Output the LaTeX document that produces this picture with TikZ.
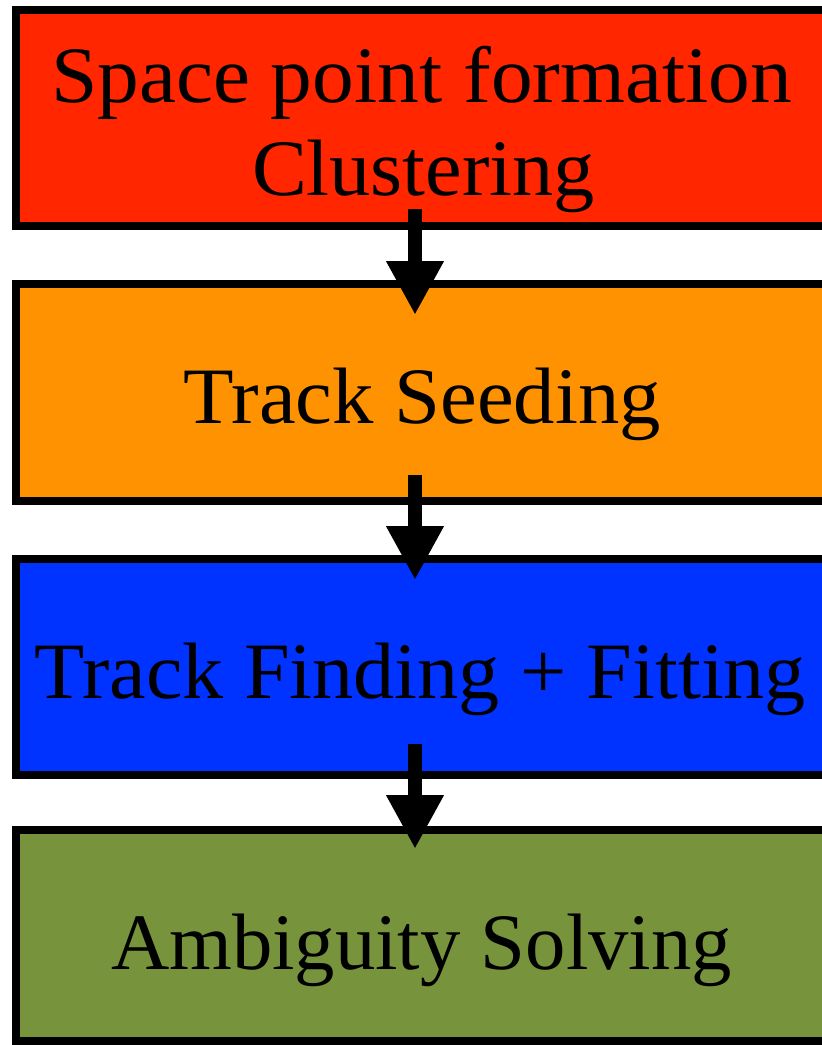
\documentclass[tikz,border=0pt]{standalone}
\usepackage{fontspec}
\setmainfont{Liberation Serif}
\usetikzlibrary{arrows.meta,calc}

\definecolor{stageRed}{RGB}{255,38,0}
\definecolor{stageOrange}{RGB}{255,146,0}
\definecolor{stageBlue}{RGB}{0,51,255}
\definecolor{stageGreen}{RGB}{119,147,60}

% set a text line at a fixed printed width, keeping its height
\newcommand{\fitline}[2]{\resizebox{#1}{\height}{#2}}

\begin{document}
\begin{tikzpicture}[x=1pt,y=-1pt,
  stagebox/.style={draw=black,line width=8pt,minimum width=810pt,
                   inner sep=0pt,outer sep=0pt},
  stagetext/.style={anchor=base,inner sep=0pt,outer sep=0pt,
                    font=\fontsize{80}{93}\selectfont},
  flow/.style={draw=black,line width=14pt,
               -{Triangle[length=54pt,width=54pt]}}]
\useasboundingbox (0,0) rectangle (822,1045);
\clip (0,0) rectangle (822,1045);

% processing stages
\node[stagebox,fill=stageRed,minimum height=216pt]    (b1) at (421,118)   {};
\node[stagebox,fill=stageOrange,minimum height=217pt] (b2) at (421,392.5) {};
\node[stagebox,fill=stageBlue,minimum height=216pt]   (b3) at (421,667)   {};
\node[stagebox,fill=stageGreen,minimum height=211pt]  (b4) at (421,935.5) {};

% stage names
\node[stagetext] (t1a) at (421.5,102) {\fitline{741pt}{Space point formation}};
\node[stagetext] (t1b) at (423.5,195) {\fitline{343pt}{Clustering}};
\node[stagetext] (t2)  at (422.5,423) {\fitline{477pt}{Track Seeding}};
\node[stagetext] (t3)  at (420.5,698) {\fitline{771pt}{Track Finding + Fitting}};
\node[stagetext] (t4)  at (421.5,969) {\fitline{621pt}{Ambiguity Solving}};

% flow between the stages
\draw[flow] ($(b1.south)+(-6,-17)$) -- ($(b2.north)+(-6,31)$);
\draw[flow] ($(b2.south)+(-6,-26)$) -- ($(b3.north)+(-6,21)$);
\draw[flow] ($(b3.south)+(-6,-31)$) -- ($(b4.north)+(-6,19)$);
\end{tikzpicture}
\end{document}
